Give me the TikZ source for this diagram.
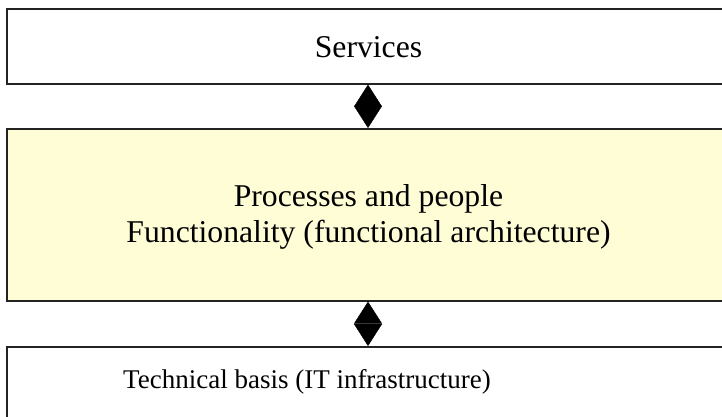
\documentclass[tikz,border=0pt]{standalone}
\usepackage{fontspec}
\setmainfont{Liberation Serif}
\usetikzlibrary{arrows.meta}
\definecolor{paleyellow}{RGB}{255,253,214}
\definecolor{edgegrey}{RGB}{35,35,35}
\begin{document}
\begin{tikzpicture}[x=1pt,y=-1pt,
  layer/.style={draw=edgegrey, line width=1.6pt, anchor=north west, inner sep=0pt, minimum width=760pt},
  link/.style={draw=black, line width=0.4pt, {Triangle[length=22pt,width=28pt]}-{Triangle[length=22pt,width=28pt]}},
  lbl/.style={font=\fontsize{31.7}{36}\selectfont, align=center, inner sep=0pt}]
\useasboundingbox (0,0) rectangle (722,417);
\clip (0,0) rectangle (722,417);
\fill[white] (0,0) rectangle (722,417);
% three stacked layers
\node[layer, minimum height=75pt] (svc) at (6,8) {};
\node[layer, minimum height=172pt, fill=paleyellow] (proc) at (6,128) {};
\node[layer, minimum height=100pt] (tech) at (6,346) {};
% labels
\node[lbl, anchor=base] (svct) at (368.5,58) {Services};
\node[lbl, anchor=base] (proct) at (368.5,242) {Processes and people\\Functionality (functional architecture)};
\node[lbl, font=\fontsize{27}{32}\selectfont, anchor=base west] (techt) at (123,388) {Technical basis (IT infrastructure)};
% links between layers
\coordinate (axis) at (368,0);
\draw[link] (svc.south -| axis) -- (proc.north -| axis);
\draw[link] (proc.south -| axis) -- (tech.north -| axis);
\end{tikzpicture}
\end{document}
